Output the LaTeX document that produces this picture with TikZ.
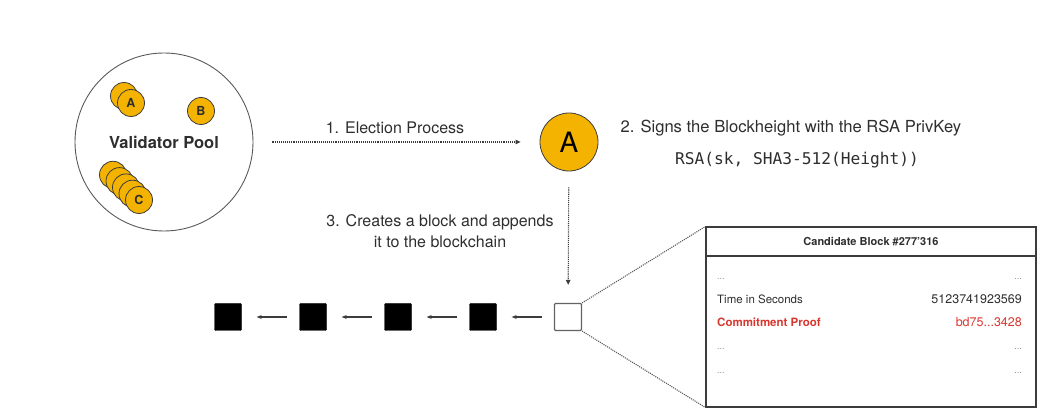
\documentclass[tikz,border=0pt]{standalone}
\usepackage{fontspec}
\setmainfont{TeX Gyre Heros}
\setmonofont{DejaVu Sans Mono}
\usepackage{xcolor}
\usetikzlibrary{arrows.meta,positioning}
\definecolor{clrCoin}{HTML}{F5B301}
\definecolor{clrLine}{HTML}{3C3C3C}
\definecolor{clrText}{HTML}{2E2E2E}
\definecolor{clrProof}{HTML}{D8372F}
\tikzset{
  pool/.style={circle, draw=clrLine!85, line width=0.9pt, minimum size=178pt,
    inner sep=0pt},
  coin/.style={circle, draw=clrLine, fill=clrCoin, line width=0.8pt,
    minimum size=27pt, inner sep=0pt, text=clrText,
    font=\fontsize{12.5}{14}\selectfont\bfseries},
  bigcoin/.style={circle, draw=clrLine, fill=clrCoin, line width=0.8pt,
    minimum size=58pt, inner sep=0pt, text=black,
    font=\fontsize{28}{30}\selectfont},
  blk/.style={rectangle, rounded corners=1pt, fill=black, draw=black,
    minimum size=27pt, inner sep=0pt},
  newblk/.style={blk, fill=white, draw=clrLine!80, line width=1.2pt},
  edge/.style={-{Stealth[length=5pt, width=4pt]}, line width=1.1pt, clrLine},
  dotedge/.style={-{Triangle[length=5pt, width=4.5pt]}, densely dotted,
    line width=1.1pt, clrLine},
  zoomline/.style={densely dotted, line width=1.1pt, clrLine!85},
  stepnote/.style={font=\fontsize{16}{20.5}\selectfont, text=clrText, align=center},
  cand/.style={rectangle, draw=clrLine, line width=1.1pt, minimum width=330pt,
    minimum height=180pt, inner sep=0pt},
  candhdr/.style={rectangle, draw=clrLine, line width=1.1pt, minimum width=330pt,
    minimum height=29pt, inner sep=0pt, text=clrText,
    font=\fontsize{11}{13}\selectfont\bfseries},
  row/.style={font=\fontsize{11.5}{13}\selectfont, text=clrText, inner sep=0pt},
  gap/.style={font=\fontsize{9}{10}\selectfont, text=black!45, inner sep=0pt},
}

\begin{document}
\begin{tikzpicture}[x=1pt, y=-1pt]
\useasboundingbox (0,0) rectangle (1044,419);

\def\ychain{317}
\def\xrowl{717}
\def\xrowr{1022}

% ── validator pool ─────────────────────────────────────────────────────────
\node[pool] (pool) at (164,142) {};
\node[coin] (cA2) at (124,96) {};
\node[coin] (cA1) at (131,103) {A};
\node[coin] (cB) at (201,111) {B};
\foreach \i in {4,3,2,1}
  \node[coin] (cC\i) at (139-6.5*\i, 200-6.3*\i) {};
\node[coin] (cC0) at (139,200) {C};
\node[font=\fontsize{16.5}{18}\selectfont\bfseries, text=clrText] (poolT)
  at (164,142) {Validator Pool};

% ── 1. election ────────────────────────────────────────────────────────────
\node[bigcoin] (lead) at (569,142) {A};
\draw[dotedge, shorten <=19pt, shorten >=19pt] (pool) -- (lead);
\node[stepnote] (s1) at (395,128) {1. Election Process};

% ── 2. signing ─────────────────────────────────────────────────────────────
\node[stepnote, anchor=west, font=\fontsize{16.6}{20}\selectfont] (s2)
  at (617,128) {2. Signs the Blockheight with the RSA PrivKey};
\node[font=\ttfamily\fontsize{16.2}{18}\selectfont, text=clrText] (sig)
  at (797,160) {RSA(sk, SHA3-512(Height))};

% ── 3. chain ───────────────────────────────────────────────────────────────
\node[blk] (b1) at (228,\ychain) {};
\node[blk] (b2) at (313,\ychain) {};
\node[blk] (b3) at (398,\ychain) {};
\node[blk] (b4) at (483,\ychain) {};
\node[newblk] (b5) at (568,\ychain) {};
\draw[edge, shorten <=12pt, shorten >=15pt] (b2) -- (b1);
\draw[edge, shorten <=12pt, shorten >=15pt] (b3) -- (b2);
\draw[edge, shorten <=12pt, shorten >=15pt] (b4) -- (b3);
\draw[edge, shorten <=12pt, shorten >=15pt] (b5) -- (b4);
\draw[dotedge, shorten <=16pt, shorten >=18pt] (lead) -- (b5);
\node[stepnote] (s3) at (440,231)
  {3. Creates a block and appends\\it to the blockchain};

% ── candidate block ────────────────────────────────────────────────────────
\node[cand] (cb) at (871,317) {};
\node[candhdr, anchor=north] (cbT) at (cb.north) {Candidate Block \#277'316};
\draw[zoomline] (b5.north east) -- (cb.north west);
\draw[zoomline] (b5.south east) -- (cb.south west);

\node[gap, anchor=west] (g1l) at (\xrowl,279) {...};
\node[gap, anchor=east] (g1r) at (\xrowr,279) {...};
\node[row, anchor=west] (tl) at (\xrowl,299) {Time in Seconds};
\node[row, anchor=east, font=\fontsize{12.5}{14}\selectfont] (tr)
  at (\xrowr,299) {5123741923569};
\node[row, anchor=west, text=clrProof, font=\fontsize{11.5}{13}\selectfont\bfseries]
  (pl) at (\xrowl,322) {Commitment Proof};
\node[row, anchor=east, text=clrProof, font=\fontsize{12.5}{14}\selectfont]
  (pr) at (\xrowr,322) {bd75...3428};
\node[gap, anchor=west] (g2l) at (\xrowl,349) {...};
\node[gap, anchor=east] (g2r) at (\xrowr,349) {...};
\node[gap, anchor=west] (g3l) at (\xrowl,373) {...};
\node[gap, anchor=east] (g3r) at (\xrowr,373) {...};

\end{tikzpicture}
\end{document}
